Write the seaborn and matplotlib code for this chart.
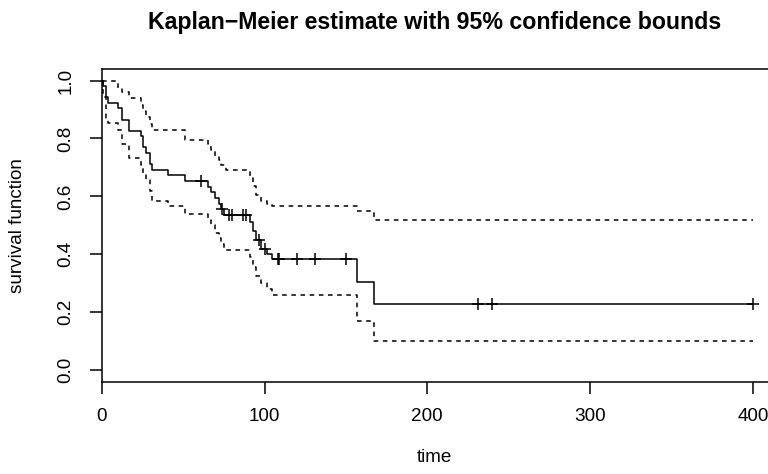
import numpy as np
import seaborn as sns
import matplotlib
matplotlib.use("Agg")
import matplotlib.pyplot as plt

# Kaplan-Meier step curve (time at which each level starts)
km_time = [0, 1, 2.5, 4, 10, 12.5, 16.5, 24, 25.5, 27, 29.5, 31, 41, 51,
           65, 67, 69.5, 72, 73.5, 75, 91, 93, 94.5, 98, 101.5, 104.5,
           157, 167.5, 400]
km_surv = [1.0, 0.981, 0.942, 0.923, 0.904, 0.865, 0.827, 0.808, 0.769,
           0.750, 0.712, 0.692, 0.673, 0.654, 0.634, 0.614, 0.595, 0.575,
           0.555, 0.535, 0.512, 0.482, 0.451, 0.419, 0.400, 0.383, 0.306,
           0.230, 0.230]

# 95% confidence bounds
up_time = [0, 10, 12.5, 16.5, 24, 25.5, 27, 29.5, 31, 51, 65, 67, 69.5,
           72, 73.5, 76.5, 91, 93, 94.5, 98, 101.5, 104.5, 157, 167.5, 400]
up_surv = [1.0, 0.975, 0.96, 0.94, 0.915, 0.895, 0.875, 0.85, 0.83, 0.796,
           0.78, 0.76, 0.74, 0.725, 0.709, 0.692, 0.665, 0.635, 0.605, 0.585,
           0.575, 0.566, 0.548, 0.517, 0.517]
lo_time = [0, 1, 2.5, 4, 10, 12.5, 16.5, 24, 25.5, 27, 29.5, 31, 41, 51,
           65, 67, 69.5, 72, 73.5, 75, 91, 93, 94.5, 98, 101.5, 104.5,
           157, 167.5, 400]
lo_surv = [1.0, 0.945, 0.87, 0.853, 0.83, 0.78, 0.732, 0.71, 0.68, 0.655,
           0.62, 0.583, 0.566, 0.540, 0.52, 0.50, 0.475, 0.455, 0.435, 0.416,
           0.39, 0.355, 0.325, 0.30, 0.28, 0.259, 0.169, 0.10, 0.10]

# censored observations
cens_time = [61, 74, 78.5, 80, 87, 88.5, 96.5, 100.5, 108, 109, 120, 131,
             150, 231, 240, 400]

x_ticks = [0, 100, 200, 300, 400]
y_ticks = [0.0, 0.2, 0.4, 0.6, 0.8, 1.0]

sns.set_style("white")
plt.rcParams['font.family'] = ['Liberation Sans', 'DejaVu Sans']
plt.rcParams['text.color'] = 'black'
plt.rcParams['axes.labelcolor'] = 'black'

W, H = 768, 474
fig = plt.figure(figsize=(W / 100, H / 100), dpi=100)
left, right, top, bottom = 101.7, 768, 69, 381.7
ax = fig.add_axes([left / W, 1 - bottom / H, (right - left) / W, (bottom - top) / H])

line_kw = dict(color='black', linewidth=1.1, estimator=None, sort=False,
               drawstyle='steps-post', ax=ax)
sns.lineplot(x=km_time, y=km_surv, **line_kw)
sns.lineplot(x=up_time, y=up_surv, linestyle=(0, (3, 3)), **line_kw)
sns.lineplot(x=lo_time, y=lo_surv, linestyle=(0, (3, 3)), **line_kw)

# censor marks sit on the step curve
idx = np.searchsorted(km_time, cens_time, side='right') - 1
cens_surv = np.array(km_surv)[idx]
sns.scatterplot(x=cens_time, y=cens_surv, marker='+', s=80, color='black',
                linewidth=1.1, ax=ax, zorder=3)

ax.set_xlim(0, (right - left) / 1.628)
ax.set_ylim(-0.04, 1.04)
ax.set_xticks(x_ticks)
ax.set_yticks(y_ticks)
ax.set_xticklabels([str(v) for v in x_ticks])
ax.set_yticklabels([f"{v:.1f}" for v in y_ticks])

for side in ['left', 'bottom', 'top']:
    ax.spines[side].set_color('black')
    ax.spines[side].set_linewidth(1.1)
ax.spines['right'].set_visible(False)

ax.tick_params(direction='out', length=8.6, width=1.1, color='black',
               labelsize=13.6, labelcolor='black')
ax.tick_params(axis='x', pad=10.5, bottom=True)
ax.tick_params(axis='y', pad=11, left=True, labelrotation=90)
for lab in ax.get_yticklabels():
    lab.set_verticalalignment('center')

ax.set_title("Kaplan\u2212Meier estimate with 95% confidence bounds",
             fontsize=16.7, fontweight='bold', pad=29, color='black')
ax.set_xlabel("time", fontsize=13.6)
ax.set_ylabel("survival function", fontsize=13.6)
ax.xaxis.set_label_coords(0.5, (bottom - 458) / (bottom - top))
ax.xaxis.label.set_verticalalignment('center')
ax.yaxis.set_label_coords((18 - left) / (right - left), 0.5)
ax.yaxis.label.set_verticalalignment('center')

fig.savefig("out.png", dpi=100)
